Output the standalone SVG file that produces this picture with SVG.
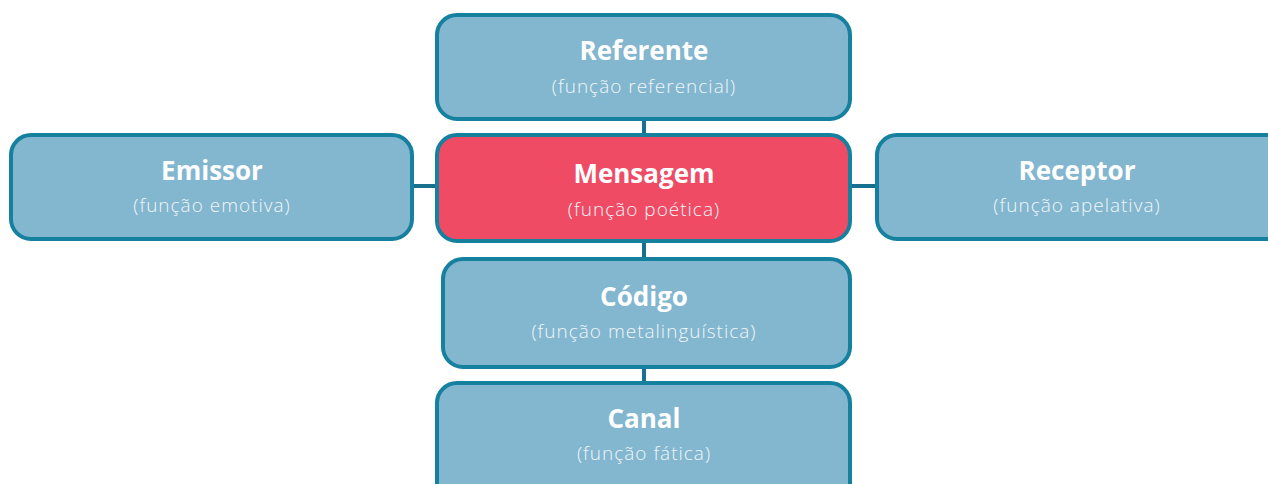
<svg xmlns="http://www.w3.org/2000/svg" width="1268" height="484" viewBox="0 0 1268 484">
<style>
.box{fill:#83b6cf;stroke:#16809f;stroke-width:4}
.hot{fill:#ef4b65;stroke:#16809f;stroke-width:4}
.t{font-family:"Open Sans",Lato,sans-serif;font-weight:700;font-size:26px;fill:#ffffff;text-anchor:middle}
.s{font-family:"Open Sans",Lato,sans-serif;font-weight:300;font-size:19px;letter-spacing:1px;fill:#f0f6f9;text-anchor:middle}
.c{stroke:#16708e;stroke-width:4;fill:none}
</style>
<rect width="1268" height="484" fill="#ffffff"/>
<g id="connectors">
<line class="c" x1="644" y1="119" x2="644" y2="136"/>
<line class="c" x1="644" y1="240" x2="644" y2="259"/>
<line class="c" x1="644" y1="366" x2="644" y2="384"/>
<line class="c" x1="411" y1="186" x2="439" y2="186"/>
<line class="c" x1="849" y1="186" x2="878" y2="186"/>
</g>
<g id="referente">
<rect class="box" x="437" y="15" width="413" height="104" rx="20"/>
<text class="t" x="644" y="60">Referente</text>
<text class="s" x="644" y="93">(função referencial)</text>
</g>
<g id="emissor">
<rect class="box" x="11" y="135" width="401" height="104" rx="20"/>
<text class="t" x="212" y="180">Emissor</text>
<text class="s" x="212" y="212">(função emotiva)</text>
</g>
<g id="mensagem">
<rect class="hot" x="437" y="135" width="413" height="106" rx="20"/>
<text class="t" x="644" y="183">Mensagem</text>
<text class="s" x="644" y="216">(função poética)</text>
</g>
<g id="receptor">
<rect class="box" x="877" y="135" width="420" height="104" rx="20"/>
<text class="t" x="1077" y="180">Receptor</text>
<text class="s" x="1077" y="212">(função apelativa)</text>
</g>
<g id="codigo">
<rect class="box" x="443" y="259" width="407" height="108" rx="20"/>
<text class="t" x="644" y="306">Código</text>
<text class="s" x="644" y="338">(função metalinguística)</text>
</g>
<g id="canal">
<rect class="box" x="437" y="383" width="413" height="120" rx="20"/>
<text class="t" x="644" y="428">Canal</text>
<text class="s" x="644" y="460">(função fática)</text>
</g>
</svg>
